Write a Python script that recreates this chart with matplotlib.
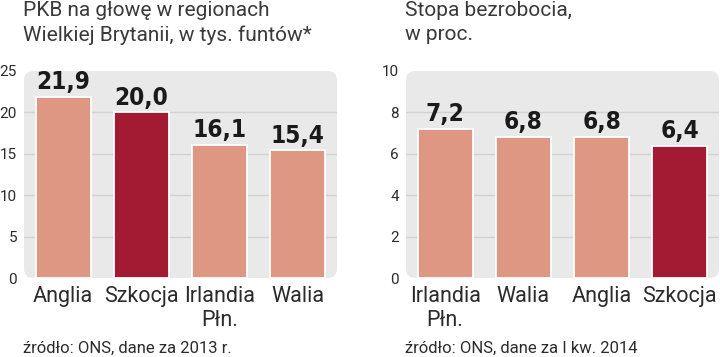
import matplotlib
matplotlib.use('Agg')
import matplotlib.pyplot as plt
from matplotlib.patches import FancyBboxPatch

# data
gdp_regions = ['Anglia', 'Szkocja', 'Irlandia\nPłn.', 'Walia']
gdp_values = [21.9, 20.0, 16.1, 15.4]
gdp_highlight = [False, True, False, False]

unemp_regions = ['Irlandia\nPłn.', 'Walia', 'Anglia', 'Szkocja']
unemp_values = [7.2, 6.8, 6.8, 6.4]
unemp_highlight = [False, False, False, True]

LIGHT = '#DE9783'
DARK = '#A21B32'
PANEL = '#E9E9E9'
GRID = '#D2D2D2'
TXT = '#2b2b2b'

plt.rcParams['font.family'] = ['Roboto', 'DejaVu Sans']

fig = plt.figure(figsize=(7.2, 3.57), dpi=100)


def draw_panel(ax, cats, vals, hl, ymax, step, title, source, lx):
    ax.set_xlim(-0.5, len(cats) - 0.5)
    ax.set_ylim(0, ymax)
    bg = FancyBboxPatch((0, 0), 1, 1, boxstyle='round,pad=0,rounding_size=0.03',
                        transform=ax.transAxes, facecolor=PANEL, edgecolor='none',
                        zorder=0, clip_on=False, mutation_aspect=313 / 207)
    ax.add_patch(bg)
    ticks = list(range(0, ymax + 1, step))
    ax.set_yticks(ticks)
    for t in ticks[1:-1]:
        ax.axhline(t, color=GRID, lw=1, zorder=1)
    colors = [DARK if h else LIGHT for h in hl]
    ax.bar(range(len(cats)), vals, width=0.7, color=colors, edgecolor='white',
           linewidth=1.3, zorder=2)
    for i, v in enumerate(vals):
        ax.annotate(f'{v:.1f}'.replace('.', ','), (i, v), xytext=(0, 2),
                    textcoords='offset points', ha='center', va='bottom',
                    fontsize=17.5, fontweight='bold', color='#1a1a1a',
                    family='DejaVu Sans', fontstretch='condensed')
    ax.set_xticks(range(len(cats)))
    ax.set_xticklabels(cats, fontsize=15.5, color=TXT, linespacing=1.15)
    ax.tick_params(axis='x', length=0, pad=6)
    ax.tick_params(axis='y', length=0, pad=5, labelsize=11, labelcolor=TXT)
    for s in ax.spines.values():
        s.set_visible(False)
    ax.set_facecolor('none')
    fig.text(lx, 1 - 1 / 357, title, ha='left', va='top', fontsize=15,
             color='#3a3a3a', linespacing=1.35)
    fig.text(lx, 1 - 356 / 357, source, ha='left', va='bottom', fontsize=12,
             color=TXT)


ax1 = fig.add_axes([24 / 720, 79 / 357, 313 / 720, 207 / 357])
draw_panel(ax1, gdp_regions, gdp_values, gdp_highlight, 25, 5,
           'PKB na głowę w regionach\nWielkiej Brytanii, w tys. funtów*',
           'źródło: ONS, dane za 2013 r.', 23 / 720)

ax2 = fig.add_axes([406 / 720, 79 / 357, 313 / 720, 207 / 357])
draw_panel(ax2, unemp_regions, unemp_values, unemp_highlight, 10, 2,
           'Stopa bezrobocia,\nw proc.',
           'źródło: ONS, dane za I kw. 2014', 405 / 720)

fig.savefig('out.png', dpi=100)
